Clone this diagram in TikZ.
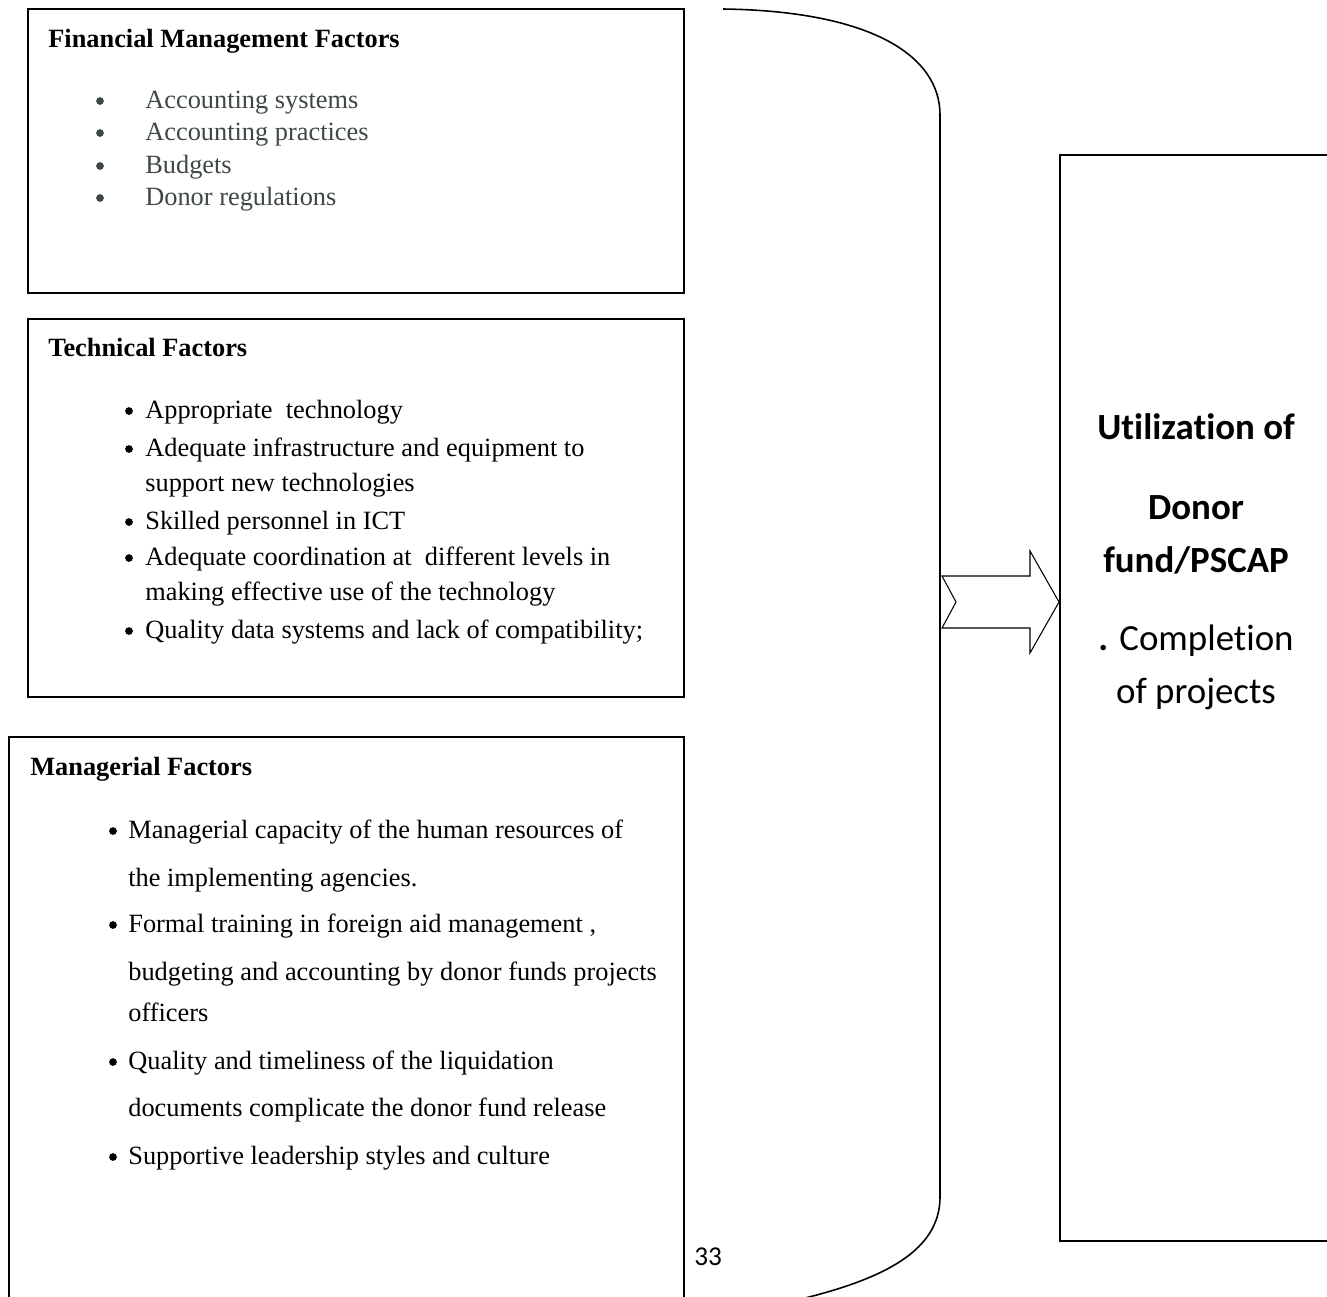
\documentclass[tikz,border=0pt]{standalone}
\usepackage{fontspec}
\setmainfont{Liberation Serif}
\newfontfamily\calibri[Ligatures=NoCommon]{Carlito}
\definecolor{listgrey}{RGB}{62,72,66}
\tikzstyle{factorbox} = [draw,line width=1.1pt]
\tikzstyle{head} = [anchor=base west,inner sep=0pt,font=\fontsize{15}{18}\selectfont\bfseries]
\tikzstyle{item} = [anchor=base west,inner sep=0pt,font=\fontsize{15}{18}\selectfont]
\tikzstyle{dot} = [circle,fill,inner sep=0pt,minimum size=4.4pt]
\tikzstyle{result} = [anchor=base,inner sep=0pt,font=\fontsize{21}{25}\selectfont\calibri]

\begin{document}
\begin{tikzpicture}[x=0.02cm,y=-0.02cm]
	\useasboundingbox (0,0) rectangle (1327,1296);
	% the three factor boxes and the result box
	\draw[factorbox] (28,9) rectangle (684,293);
	\draw[factorbox] (28,319) rectangle (684,697);
	\draw[factorbox] (9,737) rectangle (684,1320);
	\draw[factorbox] (1060,155) rectangle (1340,1241);

	% financial management
	\node[head] (fin) at (48,47) {Financial Management Factors};
	\foreach \y/\txt in {108/Accounting systems, 140/Accounting practices, 173/Budgets, 205/Donor regulations}
	{
		\node[dot,fill=listgrey] (finb\y) at (100,\y-7) {};
		\node[item,text=listgrey] (fin\y) at (145,\y) {\txt};
	}

	% technical
	\node[head] (tech) at (48,356) {Technical Factors};
	\foreach \y in {418,456,529,565,638}
		\node[dot] (techb\y) at (129,\y-7) {};
	\foreach \y/\txt in {418/Appropriate\ \ technology, 456/Adequate infrastructure and equipment to, 491/support new technologies, 529/Skilled personnel in ICT, 565/Adequate coordination at\ \ different levels in, 600/making effective use of the technology, 638/Quality data systems and lack of compatibility;}
		\node[item] (tech\y) at (145,\y) {\txt};

	% managerial
	\node[head] (man) at (30,775) {Managerial Factors};
	\foreach \y in {838,932,1069,1164}
		\node[dot] (manb\y) at (113,\y-7) {};
	\foreach \y/\txt in {838/Managerial capacity of the human resources of, 886/the implementing agencies., 932/Formal training in foreign aid management {,}, 980/budgeting and accounting by donor funds projects, 1021/officers, 1069/Quality and timeliness of the liquidation, 1116/documents complicate the donor fund release, 1164/Supportive leadership styles and culture}
		\node[item] (man\y) at (128,\y) {\txt};

	% bracket and arrow
	\draw[line width=0.9pt] (723,9) .. controls (870,11) and (940,55) .. (940,115) -- (940,1197) .. controls (940,1250) and (885,1278) .. (805,1298);
	\draw[line width=0.6pt] (942,576) -- (1030,576) -- (1030,551) -- (1059,602) -- (1030,653) -- (1030,628) -- (942,628) -- (956,602) -- cycle;

	% result
	\node[result,font=\fontsize{21}{25}\selectfont\calibri\bfseries] (util) at (1196,439) {Utilization of};
	\node[result,font=\fontsize{21}{25}\selectfont\calibri\bfseries] (donor) at (1196,519) {Donor};
	\node[result,font=\fontsize{21}{25}\selectfont\calibri\bfseries] (fund) at (1196,572) {fund/PSCAP};
	\node[result] (compl) at (1196,650) {\textbf{.} Completion};
	\node[result] (proj) at (1196,703) {of projects};

	\node[item,font=\fontsize{15.5}{18}\selectfont\calibri] (page) at (694,1265) {33};
\end{tikzpicture}
\end{document}
